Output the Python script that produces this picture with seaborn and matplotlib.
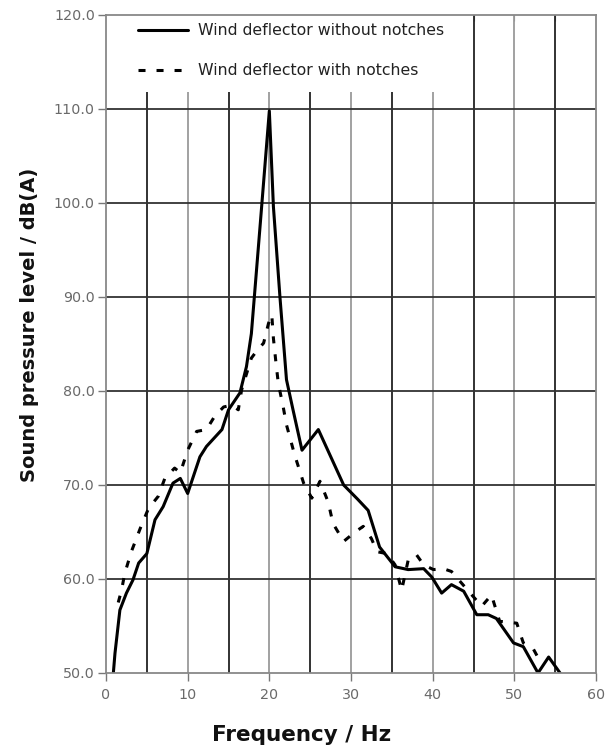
import numpy as np
import pandas as pd
import matplotlib
matplotlib.use("Agg")
import matplotlib.pyplot as plt
import seaborn as sns
from matplotlib.patches import Rectangle

# ---- data ----
freq_without = [0.9, 1.1, 1.7, 2.5, 3.3, 4.0, 5.0, 6.0, 7.0, 8.2, 9.1, 10.0, 11.5, 12.3,
                14.2, 15.0, 16.4, 17.2, 17.8, 18.9, 20.0, 20.5, 21.3, 22.1, 22.9, 24.0,
                26.0, 29.1, 30.8, 32.1, 33.5, 35.4, 37.0, 38.9, 39.9, 41.1, 42.3, 43.8,
                45.4, 46.8, 47.8, 49.9, 51.1, 52.9, 54.2, 55.6]
spl_without = [50.0, 52.1, 56.7, 58.5, 59.9, 61.7, 62.7, 66.3, 67.7, 70.2, 70.7, 69.1,
               73.0, 74.1, 75.9, 78.0, 79.8, 82.6, 86.1, 97.9, 109.8, 99.6, 90.0, 81.2,
               78.0, 73.7, 75.9, 70.0, 68.5, 67.3, 63.4, 61.3, 61.0, 61.1, 60.2, 58.5,
               59.4, 58.7, 56.2, 56.2, 55.8, 53.2, 52.8, 50.0, 51.7, 50.0]

freq_with = [1.5, 1.9, 2.3, 3.1, 4.2, 5.2, 6.4, 7.2, 8.4, 9.1, 10.0, 11.1, 12.3, 13.3,
             14.4, 15.4, 16.2, 16.6, 17.8, 18.4, 19.3, 19.9, 20.3, 20.5, 20.8, 21.1,
             21.7, 22.1, 23.1, 24.2, 25.2, 26.2, 27.2, 27.8, 29.1, 30.5, 31.5, 32.5,
             33.2, 34.4, 35.4, 36.2, 37.0, 38.0, 38.9, 40.1, 41.3, 42.3, 43.4, 44.6,
             46.0, 47.2, 48.2, 50.3, 51.1, 52.3, 52.8]
spl_with = [57.5, 58.8, 60.6, 62.9, 65.4, 67.5, 68.8, 70.7, 71.8, 71.3, 73.7, 75.7,
            75.9, 77.3, 78.3, 78.5, 78.0, 80.1, 83.5, 84.2, 85.1, 87.2, 88.1, 85.6,
            83.1, 80.8, 78.3, 76.4, 73.2, 70.2, 68.6, 70.4, 68.2, 65.9, 64.0, 65.0,
            65.6, 64.3, 62.9, 62.7, 61.5, 58.8, 62.0, 62.6, 61.5, 61.0, 61.1, 60.8,
            59.7, 58.5, 57.1, 58.3, 55.5, 55.3, 53.2, 52.6, 51.8]

label_without = "Wind deflector without notches"
label_with = "Wind deflector with notches"
x_ticks = [0, 10, 20, 30, 40, 50, 60]
y_ticks = [50, 60, 70, 80, 90, 100, 110, 120]

df_without = pd.DataFrame({"Frequency": freq_without, "SPL": spl_without})
df_with = pd.DataFrame({"Frequency": freq_with, "SPL": spl_with})

sns.set_style("white")
plt.rcParams["font.family"] = ["DejaVu Sans"]

fig = plt.figure(figsize=(6.06, 7.51), dpi=100)
ax = fig.add_axes([106 / 606, 1 - 673 / 751, 490 / 606, 658 / 751])

# grid
for xv in range(5, 60, 5):
    col = "#9a9a9a" if xv % 10 == 0 else "#222222"
    ax.axvline(xv, color=col, lw=1.3, zorder=1)
for yv in range(60, 120, 10):
    ax.axhline(yv, color="#333333", lw=1.3, zorder=1)

# white legend area
ax.add_patch(Rectangle((0, 1 - 77 / 658), 367 / 490, 77 / 658, transform=ax.transAxes,
                       facecolor="white", edgecolor="none", zorder=2))

sns.lineplot(data=df_without, x="Frequency", y="SPL", ax=ax, color="black", lw=2.2,
             sort=False, estimator=None, label=label_without, zorder=3)
sns.lineplot(data=df_with, x="Frequency", y="SPL", ax=ax, color="black", lw=2.2,
             sort=False, estimator=None, label=label_with, zorder=3,
             dashes=False)
ax.lines[-1].set_dashes((2.3, 3.6))

ax.set_xlim(0, 60)
ax.set_ylim(50, 120)
ax.set_xticks(x_ticks)
ax.set_yticks(y_ticks)
ax.set_yticklabels([f"{v:.1f}" for v in y_ticks])
ax.tick_params(axis="both", labelsize=10.3, labelcolor="#6a6a6a", color="#777777",
               length=6, width=1, direction="out", left=True, bottom=True)
ax.tick_params(axis="x", pad=5)
ax.tick_params(axis="y", pad=2)
for s in ax.spines.values():
    s.set_color("#888888")
    s.set_linewidth(1.3)
    s.set_zorder(4)

# small inward ticks along top
sec = ax.secondary_xaxis("top")
sec.set_xticks(range(5, 60, 5), labels=[])
sec.tick_params(direction="in", length=4, color="#777777")
sec.spines["top"].set_visible(False)

ax.set_xlabel("Frequency / Hz", fontsize=15.5, fontweight="bold", color="#111111")
ax.xaxis.set_label_coords((302 - 106) / 490, -(741 - 673) / 658)
ax.xaxis.label.set_verticalalignment("baseline")
ax.set_ylabel("Sound pressure level / dB(A)", fontsize=14, fontweight="bold", color="#111111")
ax.yaxis.set_label_coords(-(106 - 30) / 490, (673 - 325) / 658)
ax.yaxis.label.set_verticalalignment("center")

leg = ax.legend(loc="upper left", bbox_to_anchor=(32 / 490, 1 - 8 / 658), frameon=False,
                fontsize=11.3, handlelength=3.2, handletextpad=0.6, labelspacing=1.6,
                borderpad=0, borderaxespad=0)
leg.set_zorder(5)
for t in leg.get_texts():
    t.set_color("#222222")

fig.savefig("out.png", dpi=100)
